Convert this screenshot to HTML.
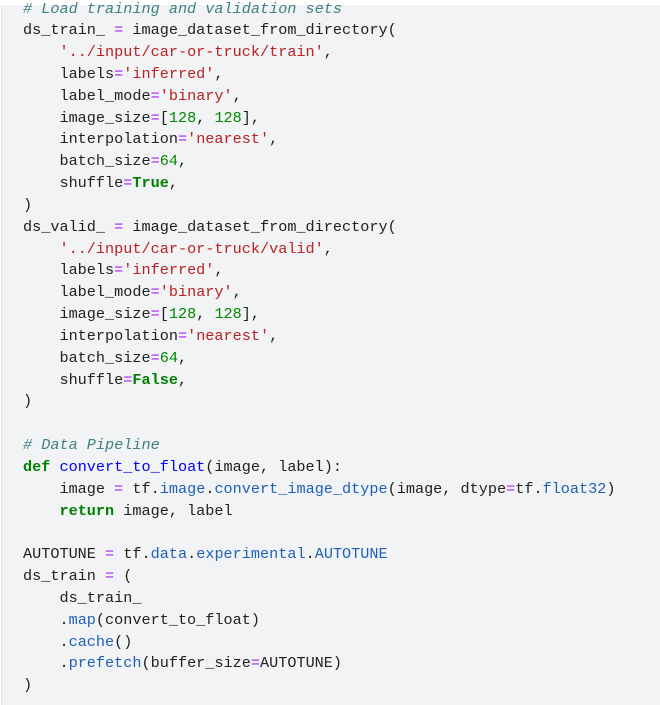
<!DOCTYPE html>
<html><head><meta charset="utf-8"><style>
html,body{margin:0;padding:0;background:#fff;width:660px;height:700px;overflow:hidden}
.bg{position:absolute;left:1px;top:5px;width:659px;height:700px;background:#f1f3f5;border-left:1px solid #dfe1e4}
pre{position:absolute;left:23px;top:-1.5px;margin:0;font-family:"Liberation Mono",monospace;font-size:15.2px;line-height:21.83px;color:#212121}
.c{color:#408080;font-style:italic}.s{color:#ba2121}.n{color:#008800}.o{color:#aa22ff}.k{color:#008000;font-weight:bold}.f{color:#0000ff}.a{color:#1f5fb8}
</style></head><body><div class="bg"></div><pre><span class="c"># Load training and validation sets</span>
ds_train_ <span class="o">=</span> image_dataset_from_directory(
    <span class="s">'../input/car-or-truck/train'</span>,
    labels<span class="o">=</span><span class="s">'inferred'</span>,
    label_mode<span class="o">=</span><span class="s">'binary'</span>,
    image_size<span class="o">=</span>[<span class="n">128</span>, <span class="n">128</span>],
    interpolation<span class="o">=</span><span class="s">'nearest'</span>,
    batch_size<span class="o">=</span><span class="n">64</span>,
    shuffle<span class="o">=</span><span class="k">True</span>,
)
ds_valid_ <span class="o">=</span> image_dataset_from_directory(
    <span class="s">'../input/car-or-truck/valid'</span>,
    labels<span class="o">=</span><span class="s">'inferred'</span>,
    label_mode<span class="o">=</span><span class="s">'binary'</span>,
    image_size<span class="o">=</span>[<span class="n">128</span>, <span class="n">128</span>],
    interpolation<span class="o">=</span><span class="s">'nearest'</span>,
    batch_size<span class="o">=</span><span class="n">64</span>,
    shuffle<span class="o">=</span><span class="k">False</span>,
)

<span class="c"># Data Pipeline</span>
<span class="k">def</span> <span class="f">convert_to_float</span>(image, label):
    image <span class="o">=</span> tf.<span class="a">image</span>.<span class="a">convert_image_dtype</span>(image, dtype<span class="o">=</span>tf.<span class="a">float32</span>)
    <span class="k">return</span> image, label

AUTOTUNE <span class="o">=</span> tf.<span class="a">data</span>.<span class="a">experimental</span>.<span class="a">AUTOTUNE</span>
ds_train <span class="o">=</span> (
    ds_train_
    .<span class="a">map</span>(convert_to_float)
    .<span class="a">cache</span>()
    .<span class="a">prefetch</span>(buffer_size<span class="o">=</span>AUTOTUNE)
)
</pre></body></html>
